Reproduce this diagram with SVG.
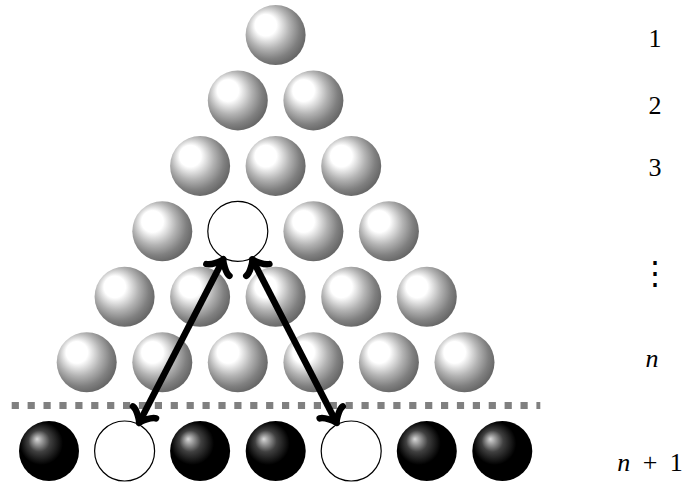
<svg xmlns="http://www.w3.org/2000/svg" width="690" height="484" viewBox="0 0 690 484">
  <defs>
    <radialGradient id="gball" cx="0.5" cy="0.5" r="1" fx="0.3" fy="0.3">
      <stop offset="0" stop-color="#ffffff"/>
      <stop offset="0.18" stop-color="#ffffff"/>
      <stop offset="0.36" stop-color="#b3b3b3"/>
      <stop offset="0.5" stop-color="#808080"/>
      <stop offset="1" stop-color="#000000"/>
    </radialGradient>
    <radialGradient id="kball" cx="0.5" cy="0.5" r="1" fx="0.3" fy="0.3">
      <stop offset="0" stop-color="#d9d9d9"/>
      <stop offset="0.18" stop-color="#404040"/>
      <stop offset="0.36" stop-color="#000000"/>
      <stop offset="1" stop-color="#000000"/>
    </radialGradient>
    <marker id="tip" markerUnits="userSpaceOnUse" markerWidth="30" markerHeight="30" refX="0" refY="0" orient="auto-start-reverse" style="overflow:visible">
      <path d="M -12,-13 C -11.2,-8.2 -2.5,-0.8 0,0 C -2.5,0.8 -11.2,8.2 -12,13" fill="none" stroke="#000" stroke-width="6.5" stroke-linecap="round" stroke-linejoin="round"/>
    </marker>
  </defs>
  <style>
    .g { fill: url(#gball); }
    .k { fill: url(#kball); }
    .w { fill: #ffffff; stroke: #000000; stroke-width: 1.2; }
    .lbl { font-family: "Liberation Serif", "DejaVu Serif", serif; font-size: 26px; fill: #000; text-anchor: middle; }
    .it { font-style: italic; }
    .arr { fill: none; stroke: #000; stroke-width: 6.5; marker-start: url(#tip); marker-end: url(#tip); }
  </style>
  <rect width="690" height="484" fill="#ffffff"/>

  <!-- row 1 -->
  <g id="r1b1"><circle class="g" cx="275.6" cy="35" r="30"/></g>
  <!-- row 2 -->
  <g id="r2b1"><circle class="g" cx="237.8" cy="100.4" r="30"/></g>
  <g id="r2b2"><circle class="g" cx="313.4" cy="100.4" r="30"/></g>
  <!-- row 3 -->
  <g id="r3b1"><circle class="g" cx="200.1" cy="165.9" r="30"/></g>
  <g id="r3b2"><circle class="g" cx="275.6" cy="165.9" r="30"/></g>
  <g id="r3b3"><circle class="g" cx="351.2" cy="165.9" r="30"/></g>
  <!-- row 4 -->
  <g id="r4b1"><circle class="g" cx="162.3" cy="231.3" r="30"/></g>
  <g id="r4b2"><circle class="w" cx="237.8" cy="231.3" r="30"/></g>
  <g id="r4b3"><circle class="g" cx="313.4" cy="231.3" r="30"/></g>
  <g id="r4b4"><circle class="g" cx="388.9" cy="231.3" r="30"/></g>
  <!-- row 5 -->
  <g id="r5b1"><circle class="g" cx="124.6" cy="296.7" r="30"/></g>
  <g id="r5b2"><circle class="g" cx="200.1" cy="296.7" r="30"/></g>
  <g id="r5b3"><circle class="g" cx="275.6" cy="296.7" r="30"/></g>
  <g id="r5b4"><circle class="g" cx="351.2" cy="296.7" r="30"/></g>
  <g id="r5b5"><circle class="g" cx="426.8" cy="296.7" r="30"/></g>
  <!-- row 6 -->
  <g id="r6b1"><circle class="g" cx="86.7" cy="362.2" r="30"/></g>
  <g id="r6b2"><circle class="g" cx="162.3" cy="362.2" r="30"/></g>
  <g id="r6b3"><circle class="g" cx="237.8" cy="362.2" r="30"/></g>
  <g id="r6b4"><circle class="g" cx="313.4" cy="362.2" r="30"/></g>
  <g id="r6b5"><circle class="g" cx="388.9" cy="362.2" r="30"/></g>
  <g id="r6b6"><circle class="g" cx="464.5" cy="362.2" r="30"/></g>

  <!-- separator -->
  <line x1="11.7" y1="405.5" x2="540.3" y2="405.5" stroke="#808080" stroke-width="7" stroke-dasharray="7.2 8.7"/>

  <!-- bottom row -->
  <g id="b1"><circle class="k" cx="49" cy="451" r="30"/></g>
  <g id="b2"><circle class="w" cx="124.6" cy="451" r="30"/></g>
  <g id="b3"><circle class="k" cx="200.1" cy="451" r="30"/></g>
  <g id="b4"><circle class="k" cx="275.7" cy="451" r="30"/></g>
  <g id="b5"><circle class="w" cx="351.2" cy="451" r="30"/></g>
  <g id="b6"><circle class="k" cx="426.8" cy="451" r="30"/></g>
  <g id="b7"><circle class="k" cx="502.3" cy="451" r="30"/></g>

  <!-- connectors -->
  <g id="connectors">
    <path class="arr" d="M 139,423 L 223.4,259.3"/>
    <path class="arr" d="M 336.7,423 L 252.3,259.3"/>
  </g>

  <!-- labels -->
  <g id="labels">
    <text class="lbl" x="655" y="47">1</text>
    <text class="lbl" x="655" y="114">2</text>
    <text class="lbl" x="655" y="176">3</text>
    <text class="lbl" x="655" y="284" style="font-family:'DejaVu Serif',serif;font-size:32px">⋮</text>
    <text class="lbl it" x="652" y="367">n</text>
    <text class="lbl" x="650" y="471" style="word-spacing:6px"><tspan class="it">n</tspan> + 1</text>
  </g>
</svg>
